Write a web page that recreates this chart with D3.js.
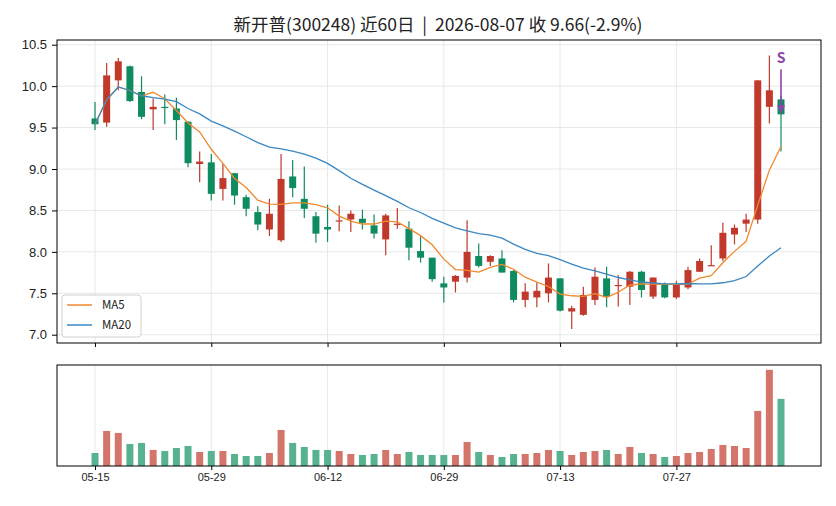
<!DOCTYPE html>
<html>
<head>
<meta charset="utf-8">
<script src="https://cdn.jsdelivr.net/npm/d3@7"></script>
<style>
  body { margin: 0; background: #fff; }
  svg { font-family: "Noto Sans CJK SC", "Noto Sans", sans-serif; }
  .grid line { stroke: #e8e8e8; stroke-width: 1; }
  .axis path, .axis line { stroke: #000; }
  .axis text { fill: #222; }
</style>
</head>
<body>
<svg id="chart" width="836" height="506"></svg>
<script>
"use strict";

var dates = ["05-15","05-18","05-19","05-20","05-21","05-22","05-25","05-26","05-27","05-28",
  "05-29","06-01","06-02","06-03","06-04","06-05","06-08","06-09","06-10","06-11",
  "06-12","06-15","06-16","06-17","06-18","06-22","06-23","06-24","06-25","06-26",
  "06-29","06-30","07-01","07-02","07-03","07-06","07-07","07-08","07-09","07-10",
  "07-13","07-14","07-15","07-16","07-17","07-20","07-21","07-22","07-23","07-24",
  "07-27","07-28","07-29","07-30","07-31","08-03","08-04","08-05","08-06","08-07"];

var open = [9.61,9.56,10.07,10.24,9.93,9.72,9.75,9.73,9.57,9.06,
  9.08,8.76,8.95,8.66,8.48,8.27,8.14,8.91,8.64,8.43,
  8.30,8.37,8.39,8.40,8.32,8.15,8.33,8.28,8.01,7.93,
  7.62,7.64,7.69,7.95,7.88,7.92,7.77,7.42,7.45,7.50,
  7.68,7.28,7.24,7.42,7.68,7.59,7.58,7.76,7.46,7.60,
  7.45,7.57,7.76,7.83,7.92,8.21,8.34,8.39,9.75,9.84];

var high = [9.81,10.28,10.34,10.25,10.12,9.85,9.90,9.86,9.58,9.21,
  9.18,9.06,8.95,8.69,8.55,8.64,9.18,9.11,9.03,8.48,
  8.57,8.56,8.50,8.51,8.45,8.46,8.53,8.37,8.19,7.93,
  7.70,7.72,8.38,8.10,7.96,8.02,7.78,7.62,7.63,7.86,
  7.68,7.35,7.58,7.81,7.82,7.72,7.77,7.77,7.69,7.63,
  7.65,7.82,7.92,8.08,8.35,8.33,8.46,10.07,10.37,9.88];

var low = [9.47,9.51,9.95,9.81,9.60,9.47,9.54,9.35,9.02,8.84,
  8.62,8.62,8.57,8.43,8.26,8.19,8.12,8.66,8.41,8.11,
  8.12,8.25,8.24,8.27,8.16,7.96,8.28,7.90,7.87,7.64,
  7.39,7.51,7.63,7.81,7.83,7.75,7.39,7.33,7.33,7.39,
  7.28,7.07,7.23,7.36,7.33,7.34,7.36,7.45,7.43,7.44,
  7.43,7.55,7.76,7.83,7.89,8.09,8.24,8.34,9.55,9.21];

var close = [9.54,10.13,10.30,9.82,9.63,9.75,9.74,9.59,9.07,9.09,
  8.70,8.89,8.68,8.52,8.33,8.46,8.88,8.77,8.52,8.22,
  8.27,8.38,8.46,8.35,8.22,8.44,8.34,8.05,7.93,7.67,
  7.57,7.71,8.00,7.83,7.95,7.75,7.42,7.52,7.53,7.69,
  7.29,7.32,7.48,7.70,7.46,7.60,7.76,7.54,7.69,7.45,
  7.60,7.78,7.89,7.84,8.23,8.29,8.39,10.07,9.95,9.66];

// 成交量（万手）
var volume = [3.9,10.5,9.9,6.6,6.9,4.8,4.5,5.4,6.0,4.2,
  4.5,4.5,3.6,3.0,3.0,3.9,10.8,6.9,5.7,4.8,
  4.8,4.5,3.6,3.3,3.6,4.8,3.6,4.2,3.3,3.3,
  3.3,3.3,7.2,4.2,3.3,2.7,3.6,3.6,3.9,4.8,
  4.5,3.3,4.2,4.5,4.8,3.6,5.7,3.9,3.6,2.7,
  3.0,3.9,4.2,5.1,6.3,6.0,5.4,16.5,28.8,20.1];

var priceTicks = [7.0,7.5,8.0,8.5,9.0,9.5,10.0,10.5];
var dateTickIdx = [0,10,20,30,40,50];
var signals = [{ i: 59, label: "S" }];

var UP = "#c0392b", DOWN = "#0f8c5f";
var UP_VOL = "#d4756b", DOWN_VOL = "#57b38f";
var MA5_COLOR = "#f0892f", MA20_COLOR = "#3a87c2";

function movingAverage(values, n) {
  // expanding mean until n values are available
  return values.map(function(v, i) {
    var start = Math.max(0, i - n + 1);
    return d3.mean(values.slice(start, i + 1));
  });
}

var ma5 = movingAverage(close, 5);
var ma20 = movingAverage(close, 20);

var DATA = dates.map(function(d, i) {
  return { i: i, date: d, open: open[i], high: high[i], low: low[i], close: close[i], vol: volume[i] };
});

var svg = d3.select("#chart");

var left = 57, right = 821;
var main = { top: 40, bottom: 343 };
var vol = { top: 365, bottom: 466 };

var x = d3.scaleLinear().domain([-3.27, 62.44]).range([left, right]);
var y = d3.scaleLinear().domain([6.9, 10.557]).range([main.bottom, main.top]);
var yv = d3.scaleLinear().domain([0, d3.max(volume) * 1.05]).range([vol.bottom, vol.top]);

var bodyW = 7;

// title
var last = DATA[DATA.length - 1], prev = DATA[DATA.length - 2];
var pct = (last.close / prev.close - 1) * 100;
svg.append("text")
  .attr("x", 438).attr("y", 31)
  .attr("text-anchor", "middle")
  .style("font-size", "17.5px")
  .style("white-space", "pre")
  .style("fill", "#222")
  .text("新开普(300248) 近60日  |  2026-" + last.date + " 收 " + last.close.toFixed(2) + "(" + pct.toFixed(1) + "%)");

// grids
var grid = svg.append("g").attr("class", "grid");
grid.selectAll(".hg").data(priceTicks).enter().append("line")
  .attr("x1", left).attr("x2", right)
  .attr("y1", function(d) { return y(d); }).attr("y2", function(d) { return y(d); });
grid.selectAll(".vg").data(dateTickIdx).enter().append("line")
  .attr("x1", function(d) { return x(d); }).attr("x2", function(d) { return x(d); })
  .attr("y1", main.top).attr("y2", main.bottom);
grid.selectAll(".vg2").data(dateTickIdx).enter().append("line")
  .attr("x1", function(d) { return x(d); }).attr("x2", function(d) { return x(d); })
  .attr("y1", vol.top).attr("y2", vol.bottom);

// candles
var candles = svg.append("g").selectAll("g").data(DATA).enter().append("g");
candles.append("line")
  .attr("x1", function(d) { return x(d.i); }).attr("x2", function(d) { return x(d.i); })
  .attr("y1", function(d) { return y(d.high); }).attr("y2", function(d) { return y(d.low); })
  .attr("stroke", function(d) { return d.close >= d.open ? UP : DOWN; })
  .attr("stroke-width", 1.2);
candles.append("rect")
  .attr("x", function(d) { return x(d.i) - bodyW / 2; })
  .attr("width", bodyW)
  .attr("y", function(d) { return y(Math.max(d.open, d.close)); })
  .attr("height", function(d) { return Math.max(1.2, Math.abs(y(d.open) - y(d.close))); })
  .attr("fill", function(d) { return d.close >= d.open ? UP : DOWN; });

// moving averages
var line = d3.line().x(function(d, i) { return x(i); }).y(function(d) { return y(d); });
svg.append("path").datum(ma5).attr("d", line)
  .attr("fill", "none").attr("stroke", MA5_COLOR).attr("stroke-width", 1.3);
svg.append("path").datum(ma20).attr("d", line)
  .attr("fill", "none").attr("stroke", MA20_COLOR).attr("stroke-width", 1.3);

// signal arrows
svg.append("defs").append("marker")
  .attr("id", "arrow").attr("viewBox", "0 0 10 10")
  .attr("refX", 10).attr("refY", 5)
  .attr("markerWidth", 5).attr("markerHeight", 5)
  .attr("markerUnits", "strokeWidth")
  .attr("orient", "auto")
  .append("path").attr("d", "M0,0 L10,5 L0,10 z").attr("fill", "#8e44ad");

var sig = svg.append("g").selectAll("g").data(signals).enter().append("g");
sig.append("line")
  .attr("x1", function(d) { return x(d.i); }).attr("x2", function(d) { return x(d.i); })
  .attr("y1", function(d) { return y(close[d.i]) - 45; })
  .attr("y2", function(d) { return y(close[d.i]) - 1; })
  .attr("stroke", "#8e44ad").attr("stroke-width", 1.6)
  .attr("marker-end", "url(#arrow)");
sig.append("text")
  .attr("x", function(d) { return x(d.i); })
  .attr("y", function(d) { return y(close[d.i]) - 51; })
  .attr("text-anchor", "middle")
  .style("font-size", "14px").style("font-weight", "bold")
  .style("fill", "#8e44ad")
  .text(function(d) { return d.label; });

// volume bars
svg.append("g").selectAll("rect").data(DATA).enter().append("rect")
  .attr("x", function(d) { return x(d.i) - bodyW / 2; })
  .attr("width", bodyW)
  .attr("y", function(d) { return yv(d.vol); })
  .attr("height", function(d) { return vol.bottom - yv(d.vol); })
  .attr("fill", function(d) { return d.close >= d.open ? UP_VOL : DOWN_VOL; });

// axes
svg.append("g").attr("class", "axis")
  .attr("transform", "translate(" + left + ",0)")
  .call(d3.axisLeft(y).tickValues(priceTicks).tickFormat(d3.format(".1f")).tickSize(5).tickPadding(5).tickSizeOuter(0))
  .style("font-size", "13px");

svg.append("g").attr("class", "axis")
  .attr("transform", "translate(0," + main.bottom + ")")
  .call(d3.axisBottom(x).tickValues(dateTickIdx).tickFormat("").tickSize(4).tickSizeOuter(0));

svg.append("g").attr("class", "axis")
  .attr("transform", "translate(0," + vol.bottom + ")")
  .call(d3.axisBottom(x).tickValues(dateTickIdx).tickFormat(function(d) { return dates[d]; }).tickSize(4).tickSizeOuter(0))
  .style("font-size", "11px");

svg.selectAll(".axis .domain").remove();

// frames
[main, vol].forEach(function(p) {
  svg.append("rect")
    .attr("x", left).attr("y", p.top)
    .attr("width", right - left).attr("height", p.bottom - p.top)
    .attr("fill", "none").attr("stroke", "#000").attr("stroke-width", 1);
});

// legend
var legend = svg.append("g").attr("transform", "translate(62,295)");
legend.append("rect")
  .attr("width", 79).attr("height", 42).attr("rx", 3)
  .attr("fill", "#fff").attr("fill-opacity", 0.85)
  .attr("stroke", "#d0d0d0");
[["MA5", MA5_COLOR], ["MA20", MA20_COLOR]].forEach(function(item, k) {
  var yy = 10 + k * 20;
  legend.append("line").attr("x1", 5).attr("x2", 30).attr("y1", yy).attr("y2", yy)
    .attr("stroke", item[1]).attr("stroke-width", 1.5);
  legend.append("text").attr("x", 40).attr("y", yy + 4)
    .style("font-size", "11.5px").style("fill", "#222").text(item[0]);
});
</script>
</body>
</html>
